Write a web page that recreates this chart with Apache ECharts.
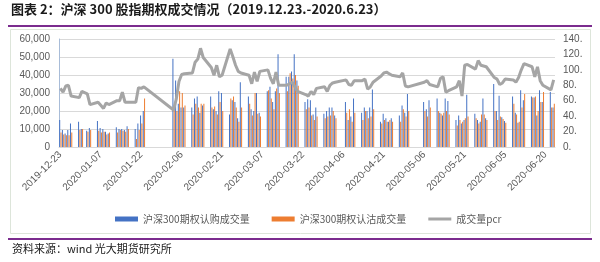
<!DOCTYPE html>
<html><head><meta charset="utf-8">
<script src="https://cdn.jsdelivr.net/npm/echarts@6/dist/echarts.min.js"></script>
<style>html,body{margin:0;padding:0;background:#fff}#c{width:600px;height:262px}</style>
</head><body><div id="c"></div>
<script>
const dates = [
'2019-12-23','2019-12-24','2019-12-25','2019-12-26','2019-12-27','2019-12-30','2019-12-31',
'2020-01-02','2020-01-03','2020-01-06','2020-01-07','2020-01-08','2020-01-09','2020-01-10','2020-01-13','2020-01-14','2020-01-15','2020-01-16','2020-01-17','2020-01-20','2020-01-21','2020-01-22','2020-01-23',
'2020-02-03','2020-02-04','2020-02-05','2020-02-06','2020-02-07','2020-02-10','2020-02-11','2020-02-12','2020-02-13','2020-02-14','2020-02-17','2020-02-18','2020-02-19','2020-02-20','2020-02-21','2020-02-24','2020-02-25','2020-02-26','2020-02-27','2020-02-28',
'2020-03-02','2020-03-03','2020-03-04','2020-03-05','2020-03-06','2020-03-09','2020-03-10','2020-03-11','2020-03-12','2020-03-13','2020-03-16','2020-03-17','2020-03-18','2020-03-19','2020-03-20','2020-03-23','2020-03-24','2020-03-25','2020-03-26','2020-03-27','2020-03-30','2020-03-31',
'2020-04-01','2020-04-02','2020-04-03','2020-04-07','2020-04-08','2020-04-09','2020-04-10','2020-04-13','2020-04-14','2020-04-15','2020-04-16','2020-04-17','2020-04-20','2020-04-21','2020-04-22','2020-04-23','2020-04-24','2020-04-27','2020-04-28','2020-04-29','2020-04-30',
'2020-05-06','2020-05-07','2020-05-08','2020-05-11','2020-05-12','2020-05-13','2020-05-14','2020-05-15','2020-05-18','2020-05-19','2020-05-20','2020-05-21','2020-05-22','2020-05-25','2020-05-26','2020-05-27','2020-05-28','2020-05-29',
'2020-06-01','2020-06-02','2020-06-03','2020-06-04','2020-06-05','2020-06-08','2020-06-09','2020-06-10','2020-06-11','2020-06-12','2020-06-15','2020-06-16','2020-06-17','2020-06-18','2020-06-19','2020-06-22','2020-06-23'
];
const callVol = [
15000,9500,7500,9500,13000,14000,10000,
9000,10500,14500,10500,10000,8500,7500,11000,10000,10000,9500,11500,10000,13000,17500,20000,
49000,37000,24000,22000,22000,22000,27000,28000,19000,23000,28000,21000,20000,31000,30000,18000,26000,25000,16000,36000,
28000,21000,20000,30000,19000,31000,33500,25000,31000,51500,39000,39000,42000,51500,37000,25000,26500,26000,18000,22000,18500,20000,
22000,22000,17500,25000,15000,17000,27000,19000,22000,20000,22000,32000,14000,18500,16000,14000,16000,17500,23000,19000,29500,
25000,21000,26000,27000,19000,17500,27000,25500,15000,17500,13000,15000,29000,18500,15000,14000,27000,16000,
35000,20000,28500,16500,14500,28000,19000,13500,31500,26000,28000,27500,17500,31500,25000,30500,22000
];
const putVol = [
8000,7000,6500,6500,8000,9500,10000,
8500,9500,9000,8000,8500,7000,8000,8000,9500,9000,8500,10000,4500,9500,13000,27000,
23000,20000,31000,30000,23000,18000,24000,22000,24000,24000,22000,22500,18000,25000,20000,27000,28000,22000,14000,22000,
24000,17500,30000,18500,17000,31500,27000,21000,32500,30000,31000,41000,38000,40000,34000,21000,22000,17500,15000,17000,16000,17000,
17500,20000,16000,19000,21000,14000,19000,15000,20000,16000,17000,21000,13000,15000,14000,15000,14000,14000,21000,17000,20000,
20000,17000,22000,20000,18500,19000,20000,18000,12000,15000,14000,16000,17000,16000,13000,18000,18000,15000,
20000,15000,17000,15500,13500,24000,18000,14000,22000,29500,27500,28000,20000,25000,30500,22000,24000
];
const pcr = [
76,71,79,80,66,64,72,
69,55,58,54,50,57,55,60,60,71,58,58,58,77,76,78,
48,62,85,94,95,96,110,114,128,116,103,93,106,91,93,127,117,106,98,96,
93,82,97,85,98,100,89,82,97,80,80,82,84,78,72,68,66,72,68,76,78,72,
80,83,84,87,81,80,86,86,88,75,78,84,92,96,97,95,93,91,96,79,78,
84,86,81,78,89,91,71,73,78,86,66,106,107,101,112,106,105,104,
90,88,81,83,88,87,84,90,100,108,104,91,104,86,80,74,87
];
const tickLabels = ['2019-12-23','2020-01-07','2020-01-22','2020-02-06','2020-02-21','2020-03-07','2020-03-22','2020-04-06','2020-04-21','2020-05-06','2020-05-21','2020-06-05','2020-06-20'];
const seriesNames = ['沪深300期权认购成交量','沪深300期权认沽成交量','成交量pcr'];
const titleText = '图表 2：沪深 300 股指期权成交情况（2019.12.23.-2020.6.23）';
const sourceText = '资料来源：wind 光大期货研究所';

const base = Date.UTC(2019, 11, 23);
const dayOf = s => { const p = s.split('-'); return Math.round((Date.UTC(+p[0], +p[1] - 1, +p[2]) - base) / 86400000); };
const xs = dates.map(dayOf);
const tickDays = tickLabels.map(dayOf);

const chart = echarts.init(document.getElementById('c'), null, {renderer: 'canvas'});
chart.setOption({
  animation: false,
  backgroundColor: '#fff',
  textStyle: {fontFamily: 'Liberation Sans'},
  graphic: [
    {type: 'text', left: 11, top: 3, style: {text: titleText, font: 'bold 13px "Noto Sans CJK SC"', fill: '#1a1a1a'}},
    {type: 'rect', shape: {x: 8, y: 25, width: 584, height: 2}, style: {fill: '#7B2C8E'}},
    {type: 'rect', shape: {x: 10.5, y: 29.5, width: 580, height: 204}, style: {fill: 'none', stroke: '#dde5da', lineWidth: 1}},
    {type: 'rect', shape: {x: 8, y: 238, width: 584, height: 2}, style: {fill: '#7B2C8E'}},
    {type: 'text', left: 12, top: 243, style: {text: sourceText, font: '11px "Noto Sans CJK SC"', fill: '#1a1a1a'}}
  ],
  grid: {left: 59, right: 45, top: 39, height: 108},
  xAxis: {
    type: 'value', min: -0.5, max: 183.5,
    splitLine: {show: false},
    axisLine: {show: true, onZero: false, lineStyle: {color: '#d9d9d9'}},
    axisTick: {show: false},
    axisLabel: {customValues: tickDays, rotate: 45, fontSize: 10, color: '#595959', margin: 6,
      formatter: v => tickLabels[tickDays.indexOf(v)] || ''}
  },
  yAxis: [
    {type: 'value', min: 0, max: 60000, interval: 10000,
      axisLabel: {formatter: v => v.toLocaleString('en-US'), fontSize: 10, color: '#595959', margin: 9},
      splitLine: {lineStyle: {color: '#d9d9d9'}},
      axisLine: {show: true, onZero: false, lineStyle: {color: '#a8bcd8'}},
      axisTick: {show: false}},
    {type: 'value', min: 0, max: 140, interval: 20, position: 'right',
      axisLabel: {formatter: v => v + '.', fontSize: 10, color: '#595959', margin: 8},
      splitLine: {show: false}, axisLine: {show: false}, axisTick: {show: false}}
  ],
  legend: {
    left: 110, top: 209, itemWidth: 23, itemHeight: 5, itemGap: 22,
    textStyle: {fontSize: 10, color: '#595959', fontFamily: 'Noto Sans CJK SC'},
    data: [
      {name: seriesNames[0], icon: 'rect'},
      {name: seriesNames[1], icon: 'rect'},
      {name: seriesNames[2], icon: 'path://M0,0L23,0L23,3L0,3Z', itemStyle: {color: '#A5A5A5'}}
    ]
  },
  series: [
    {name: seriesNames[0], type: 'bar', barWidth: 1, barGap: '30%', itemStyle: {color: '#4472C4'},
      data: xs.map((d, i) => [d, callVol[i]])},
    {name: seriesNames[1], type: 'bar', barWidth: 1, barGap: '30%', itemStyle: {color: '#ED7D31'},
      data: xs.map((d, i) => [d, putVol[i]])},
    {name: seriesNames[2], type: 'line', yAxisIndex: 1, symbol: 'none', z: 5,
      lineStyle: {width: 3, color: '#A5A5A5'}, itemStyle: {color: '#A5A5A5'},
      data: xs.map((d, i) => [d, pcr[i]])}
  ]
});
</script></body></html>
